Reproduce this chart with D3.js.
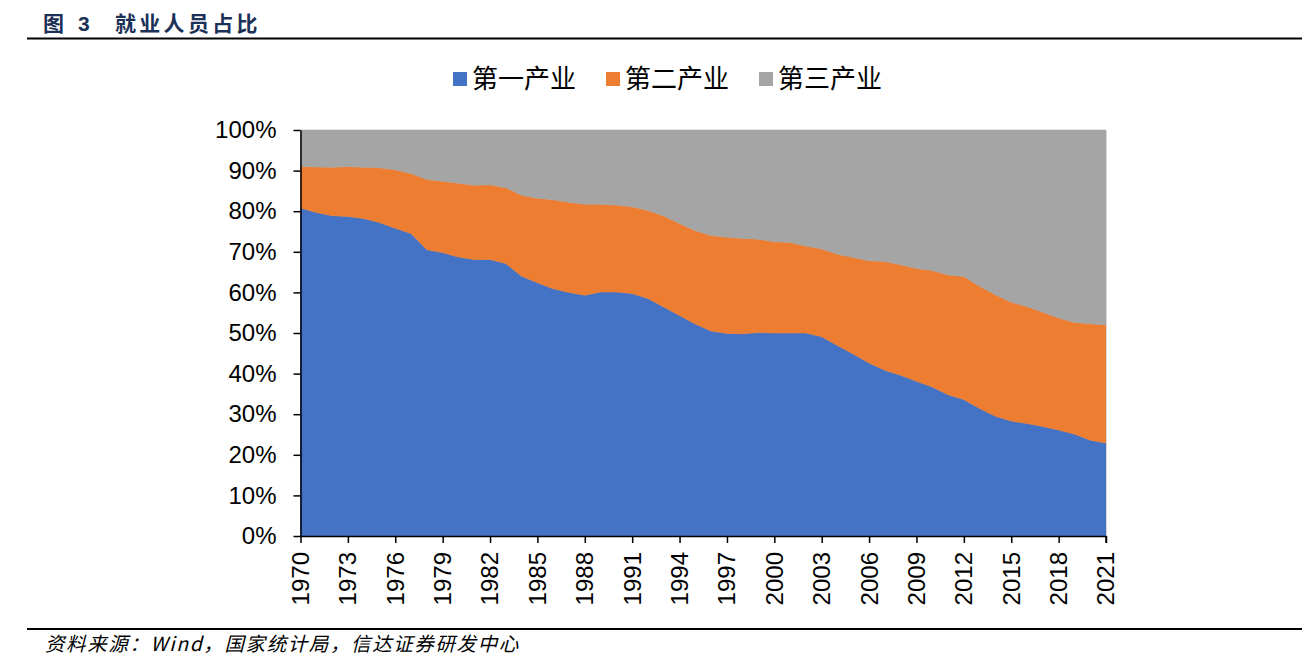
<!DOCTYPE html>
<html>
<head>
<meta charset="utf-8">
<script src="https://cdn.jsdelivr.net/npm/d3@7"></script>
<style>
  html, body { margin: 0; padding: 0; background: #fff; }
  svg { display: block; }
</style>
</head>
<body>
<svg id="chart" width="1316" height="665"></svg>
<script>
// ---- Data ----
const years = d3.range(1970, 2022);
const seriesNames = ["第一产业", "第二产业", "第三产业"];
const seriesColors = ["#4472C4", "#ED7D31", "#A5A5A5"];
const primary = [80.8, 79.7, 78.9, 78.7, 78.2, 77.2, 75.8, 74.5, 70.5, 69.8,
                 68.7, 68.1, 68.1, 67.1, 64.0, 62.4, 60.9, 60.0, 59.3, 60.1,
                 60.1, 59.7, 58.5, 56.4, 54.3, 52.2, 50.5, 49.9, 49.8, 50.1,
                 50.0, 50.0, 50.0, 49.1, 46.9, 44.8, 42.6, 40.8, 39.6, 38.1,
                 36.7, 34.8, 33.6, 31.4, 29.5, 28.3, 27.7, 27.0, 26.1, 25.1,
                 23.6, 22.9];
const secondary = [10.2, 11.2, 11.9, 12.3, 12.6, 13.5, 14.4, 14.8, 17.3, 17.6,
                   18.2, 18.3, 18.4, 18.7, 19.9, 20.8, 21.9, 22.2, 22.4, 21.6,
                   21.4, 21.4, 21.7, 22.4, 22.7, 23.0, 23.5, 23.7, 23.5, 23.0,
                   22.5, 22.3, 21.4, 21.6, 22.5, 23.8, 25.2, 26.8, 27.2, 27.8,
                   28.7, 29.5, 30.3, 30.1, 29.9, 29.3, 28.8, 28.1, 27.6, 27.5,
                   28.7, 29.1];
const tertiary = primary.map((p, i) => +(100 - p - secondary[i]).toFixed(1));
const xTickYears = d3.range(1970, 2022, 3);
const yTickValues = d3.range(0, 1.01, 0.1);

// ---- Build table ----
const table = years.map((yr, i) => ({
  year: yr,
  "第一产业": primary[i] / 100,
  "第二产业": secondary[i] / 100,
  "第三产业": tertiary[i] / 100
}));

const svg = d3.select("#chart");
const plotL = 300.5, plotR = 1106, plotT = 130, plotB = 536;

const x = d3.scaleLinear().domain([1970, 2021]).range([plotL, plotR]);
const y = d3.scaleLinear().domain([0, 1]).range([plotB, plotT]);

const stacked = d3.stack().keys(seriesNames)(table);

const area = d3.area()
  .x(d => x(d.data.year))
  .y0(d => y(d[0]))
  .y1(d => y(d[1]));

svg.append("g").selectAll("path")
  .data(stacked)
  .join("path")
  .attr("d", area)
  .attr("fill", (d, i) => seriesColors[i])
  .attr("stroke", (d, i) => seriesColors[i])
  .attr("stroke-width", 0.6);

// plot border (light)
svg.append("line")
  .attr("x1", plotR + 0.5).attr("x2", plotR + 0.5)
  .attr("y1", plotT).attr("y2", plotB)
  .attr("stroke", "#d9d9d9").attr("stroke-width", 1);

// ---- Axes ----
const yAxis = d3.axisLeft(y)
  .tickValues(yTickValues)
  .tickFormat(d => Math.round(d * 100) + "%")
  .tickSize(7)
  .tickSizeOuter(0)
  .tickPadding(17);

const gy = svg.append("g")
  .attr("transform", `translate(${plotL},0)`)
  .call(yAxis);
gy.select(".domain").attr("stroke", "#000").attr("stroke-width", 1.5);
gy.selectAll(".tick line").attr("stroke", "#000").attr("stroke-width", 1.5);
gy.selectAll(".tick text")
  .attr("font-family", "'Liberation Sans', Arial, sans-serif")
  .attr("font-size", 24)
  .attr("fill", "#000");

const xAxis = d3.axisBottom(x)
  .tickValues(xTickYears)
  .tickFormat(d3.format("d"))
  .tickSize(7)
  .tickSizeOuter(0);

const gx = svg.append("g")
  .attr("transform", `translate(0,${plotB})`)
  .call(xAxis);
gx.select(".domain").attr("stroke", "#000").attr("stroke-width", 1.5);
gx.selectAll(".tick line").attr("stroke", "#000").attr("stroke-width", 1.5);
gx.selectAll(".tick text")
  .attr("font-family", "'Liberation Sans', Arial, sans-serif")
  .attr("font-size", 24)
  .attr("fill", "#000")
  .attr("text-anchor", "end")
  .attr("transform", "rotate(-90)")
  .attr("x", -16)
  .attr("y", 0)
  .attr("dy", "0.33em");
gx.append("line")
  .attr("x1", plotR).attr("x2", plotR)
  .attr("y1", 0).attr("y2", 7)
  .attr("stroke", "#000").attr("stroke-width", 1.5);

// ---- Legend ----
const legend = svg.append("g");
const legendX0 = 453, legendStep = 153;
seriesNames.forEach((name, i) => {
  const g = legend.append("g").attr("transform", `translate(${legendX0 + i * legendStep},0)`);
  g.append("rect").attr("x", 0).attr("y", 72).attr("width", 14).attr("height", 14)
    .attr("fill", seriesColors[i]);
  g.append("text").attr("x", 19).attr("y", 87.5)
    .attr("font-family", "'Noto Sans CJK SC', sans-serif")
    .attr("font-size", 26)
    .attr("fill", "#000")
    .text(name);
});

// ---- Title ----
const titleFont = "'Noto Sans CJK SC', sans-serif";
const titleColor = "#1c3157";
svg.append("text").attr("x", 43).attr("y", 31)
  .attr("font-family", titleFont).attr("font-weight", "bold")
  .attr("font-size", 21).attr("fill", titleColor).text("图");
svg.append("text").attr("x", 78).attr("y", 31)
  .attr("font-family", "'Liberation Sans', Arial, sans-serif").attr("font-weight", "bold")
  .attr("font-size", 21).attr("fill", titleColor).text("3");
svg.append("text").attr("x", 115).attr("y", 31)
  .attr("font-family", titleFont).attr("font-weight", "bold")
  .attr("font-size", 21).attr("letter-spacing", 3.3).attr("fill", titleColor).text("就业人员占比");

svg.append("line").attr("x1", 27).attr("x2", 1302).attr("y1", 38.5).attr("y2", 38.5)
  .attr("stroke", "#000").attr("stroke-width", 2.2);

// ---- Source ----
svg.append("line").attr("x1", 27).attr("x2", 1302).attr("y1", 629).attr("y2", 629)
  .attr("stroke", "#000").attr("stroke-width", 2.2);
svg.append("text").attr("x", 45).attr("y", 651)
  .attr("font-family", "'Noto Sans CJK SC', sans-serif")
  .attr("font-style", "italic")
  .attr("font-size", 19.5)
  .attr("letter-spacing", 1.6)
  .attr("fill", "#000")
  .text("资料来源：Wind，国家统计局，信达证券研发中心");
</script>
</body>
</html>
